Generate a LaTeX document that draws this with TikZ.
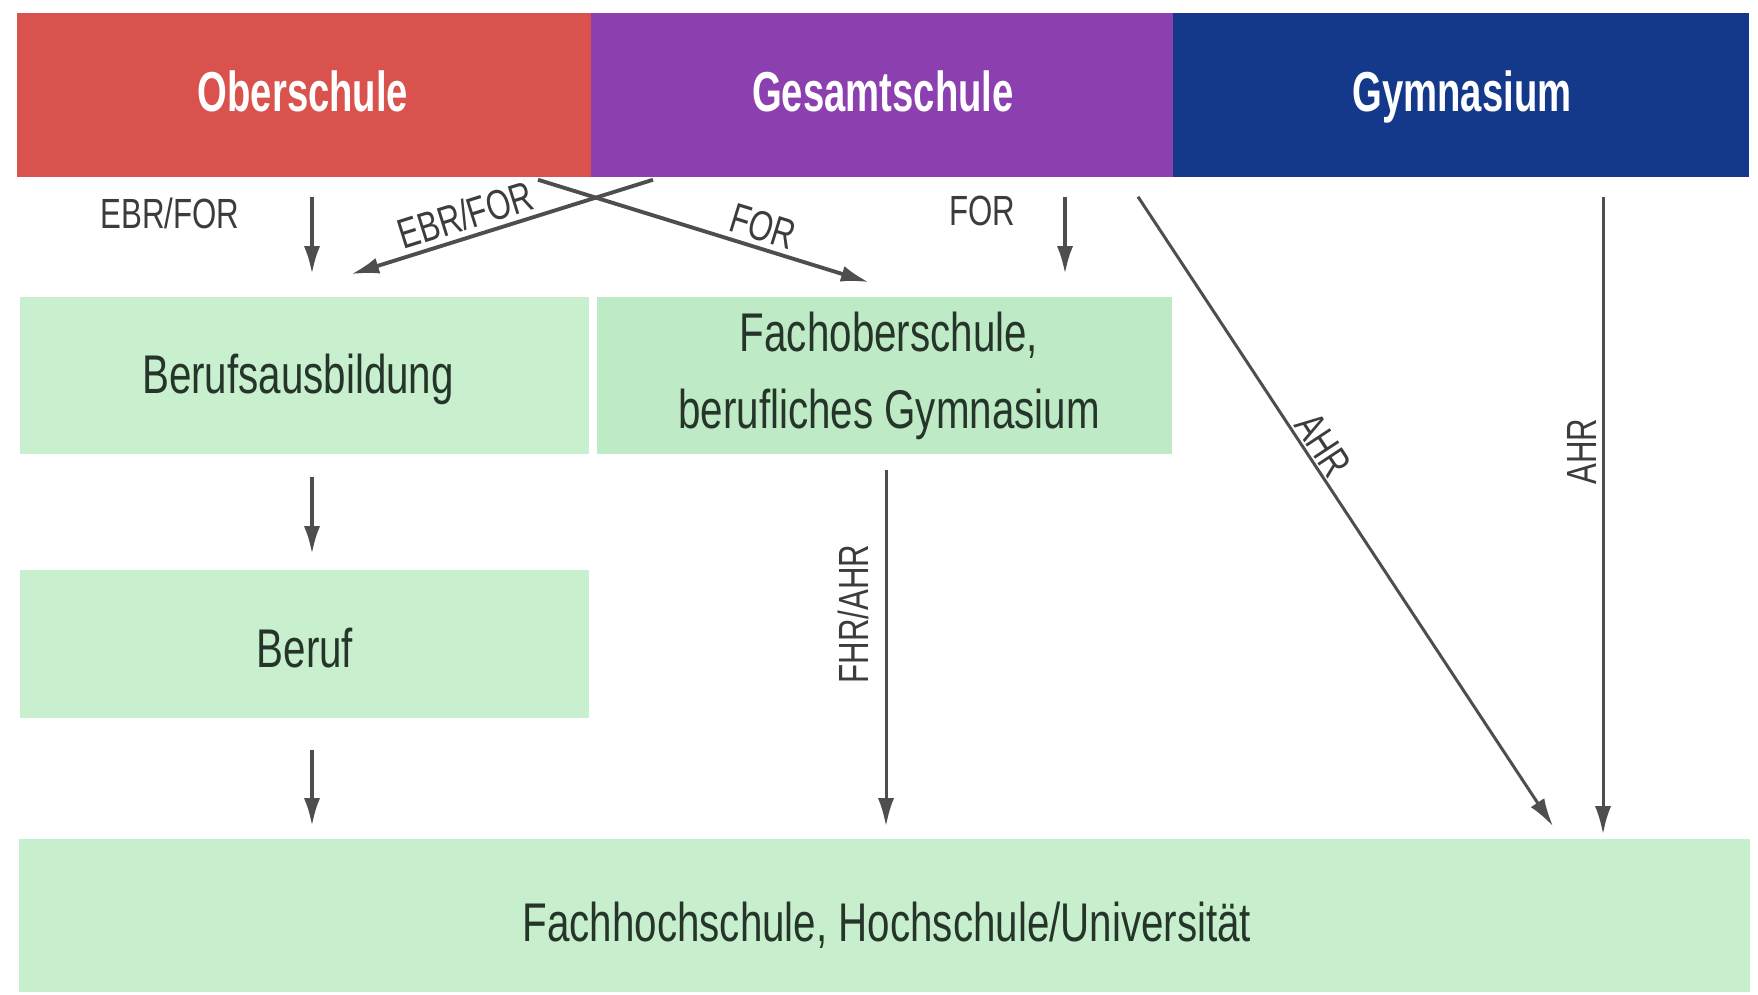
\documentclass[tikz,border=0pt]{standalone}
\usepackage{fontspec}
\setmainfont{Liberation Sans}[FakeStretch=0.74]
\newfontfamily\headfont{Liberation Sans}[FakeStretch=0.68]
\usetikzlibrary{arrows.meta,calc}
\definecolor{obred}{HTML}{DA524E}
\definecolor{gspurple}{HTML}{8C3FAF}
\definecolor{gynavy}{HTML}{14398A}
\definecolor{boxgreen}{HTML}{C8EFCE}
\definecolor{boxgreenB}{HTML}{BEEBC6}
\definecolor{boxtext}{HTML}{25352A}
\definecolor{arrgray}{HTML}{4E4E4E}
\definecolor{labgray}{HTML}{3C3C3C}
\begin{document}
\begin{tikzpicture}[x=0.01cm,y=-0.01cm,
  head/.style={rectangle, inner sep=0pt, text=white, font=\headfont\bfseries\fontsize{16}{19}\selectfont},
  gbox/.style={rectangle, inner sep=0pt, fill=boxgreen, text=boxtext, font=\fontsize{15.5}{22}\selectfont, align=center},
  arr/.style={draw=arrgray, line width=1.1pt, -{Latex[length=8pt,width=4.6pt]}},
  thinarr/.style={draw=arrgray, line width=0.85pt, -{Latex[length=8pt,width=4.6pt]}},
  lab/.style={text=labgray, font=\fontsize{12}{14}\selectfont, inner sep=1.5pt}]
\useasboundingbox (0,0) rectangle (1758,995);
\fill[white] (0,0) rectangle (1758,995);

% header bars
\node[head, fill=obred, minimum width=5.74cm, minimum height=1.64cm] (ober) at (304,95) {};
\node[head, fill=gspurple, minimum width=5.82cm, minimum height=1.64cm] (gesamt) at (882,95) {};
\node[head, fill=gynavy, minimum width=5.76cm, minimum height=1.64cm] (gym) at (1461,95) {};
\node[head, anchor=base] (oberT) at (303,112) {Oberschule};
\node[head, anchor=base] (gesamtT) at (883,112) {Gesamtschule};
\node[head, anchor=base] (gymT) at (1462,112) {Gymnasium};

% green boxes
\node[gbox, minimum width=5.69cm, minimum height=1.57cm] (bausb) at (304.5,375.5) {};
\node[gbox, fill=boxgreenB, minimum width=5.75cm, minimum height=1.57cm] (fos) at (884.5,375.5) {};
\node[gbox, minimum width=5.69cm, minimum height=1.48cm] (beruf) at (304.5,644) {};
\node[gbox, fill=boxgreen!95!boxgreenB, minimum width=17.29cm, minimum height=1.53cm] (hs) at (884.5,915.5) {};
\node[gbox, fill=none] (bausbT) at (298,379) {Berufsausbildung};
\node[gbox, fill=none] (fosT) at (889,376) {Fachoberschule,\\ berufliches Gymnasium};
\node[gbox, fill=none] (berufT) at (305,648) {Beruf};
\node[gbox, fill=none] (hsT) at (887,925) {Fachhochschule, Hochschule/Universität};

% labels without connectors
\node[lab] (l1) at (170,213) {EBR/FOR};
\node[lab] (l2) at (982,211) {FOR};

% connectors
\draw[arr] ($(ober.south)+(8,19)$) -- ($(bausb.north)+(7.5,-22)$);
\draw[arr] ($(gesamt.south)+(-229,2)$) -- node[lab, sloped, above, pos=0.6] {EBR/FOR} ($(bausb.north)+(46.5,-22)$);
\draw[arr] ($(ober.south)+(234,2)$) -- node[lab, sloped, above, pos=0.66] {FOR} ($(fos.north)+(-15.5,-14)$);
\draw[arr] ($(gesamt.south)+(183,19)$) -- ($(fos.north)+(180.5,-22)$);
\draw[thinarr] ($(gym.south)+(-323,19)$) -- node[lab, sloped, above, pos=0.41, inner sep=0.6pt] {AHR} ($(hs.north)+(668.5,-12)$);
\draw[thinarr] ($(gym.south)+(142,19)$) -- node[lab, rotate=90, anchor=south, pos=0.40] {AHR} ($(hs.north)+(718.5,-4)$);
\draw[arr] ($(bausb.south)+(7.5,22)$) -- ($(beruf.north)+(7.5,-15)$);
\draw[arr] ($(beruf.south)+(7.5,31)$) -- ($(hs.north)+(-572.5,-12)$);
\draw[thinarr] ($(fos.south)+(1.5,15)$) -- node[lab, rotate=90, anchor=south, pos=0.405, inner sep=4.5pt] {FHR/AHR} ($(hs.north)+(1.5,-12)$);
\end{tikzpicture}
\end{document}
